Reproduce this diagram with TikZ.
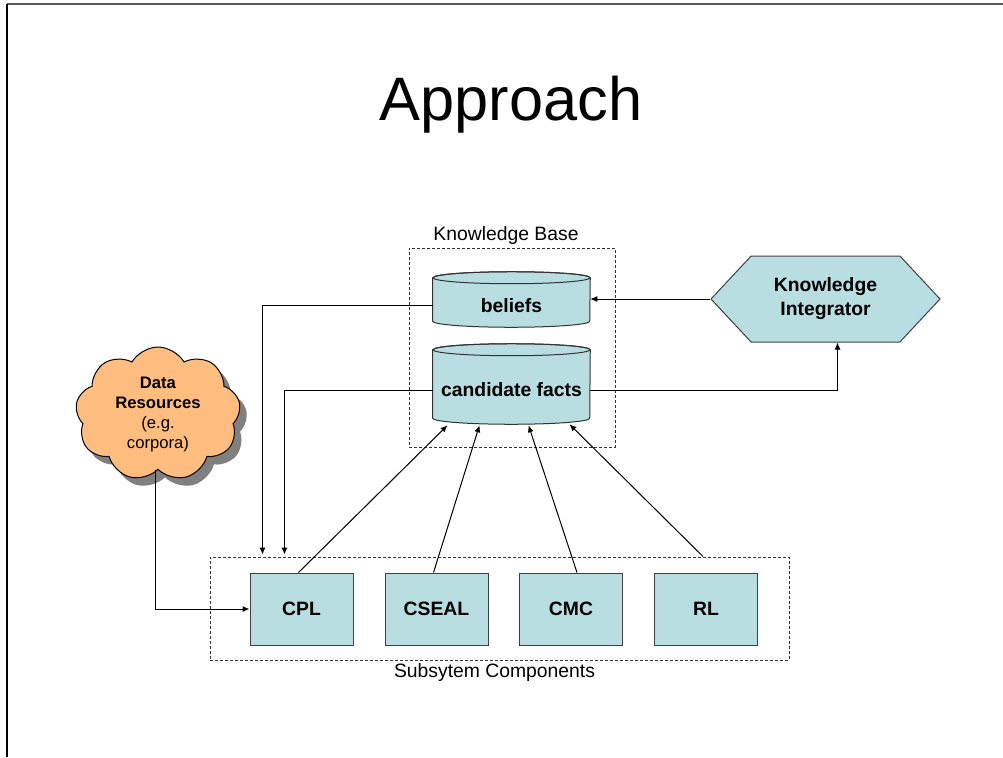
\documentclass[tikz,border=0pt]{standalone}
\usepackage{fontspec}
\setmainfont{Liberation Sans}
\newcommand\unit{0.75pt}
\newcommand\rx{78.5*\unit}
\newcommand\ry{6*\unit}
\usetikzlibrary{positioning,arrows.meta,shapes.symbols,shadows,backgrounds}
\definecolor{teal}{RGB}{185,222,225}
\definecolor{peach}{RGB}{255,190,128}
\tikzset{
  comp/.style={rectangle,draw=black!75,line width=\unit,fill=teal,minimum width=103*\unit,minimum height=72*\unit,font=\bfseries\fontsize{14.5}{18}\selectfont},
  dbnode/.style={rectangle,minimum width=157*\unit,inner sep=0pt,font=\bfseries\fontsize{14.5}{18}\selectfont},
  group/.style={rectangle,draw=black!80,line width=\unit,dash pattern=on 3*\unit off 2*\unit},
  grouplabel/.style={font=\fontsize{14.5}{18}\selectfont,inner sep=1pt},
  link/.style={draw=black,line width=\unit,-{Latex[length=7*\unit,width=6*\unit]}},
  plainlink/.style={draw=black!70,line width=\unit}
}
% cylinder drawn round a named node
\newcommand\dbshape[1]{%
  \filldraw[fill=teal,draw=black!80,line width=\unit]
    ([yshift=6*\unit]#1.north west) -- ([yshift=6*\unit]#1.south west)
    arc[start angle=180,end angle=360,x radius=\rx,y radius=\ry]
    -- ([yshift=6*\unit]#1.north east)
    arc[start angle=0,end angle=180,x radius=\rx,y radius=\ry] -- cycle;
  \draw[draw=black!80,line width=\unit] ([yshift=6*\unit]#1.north) ellipse[x radius=\rx,y radius=\ry];}

\begin{document}
\begin{tikzpicture}[x=\unit,y=-\unit]
  \useasboundingbox (0,0) rectangle (1003,757);
  \draw[black!65,line width=1.2*\unit] (1003,4) -- (7,4);
  \draw[black,line width=1.2*\unit] (7,4) -- (7,757);

  \node[font=\fontsize{46}{50}\selectfont] (title) at (511,105) {Approach};

  % knowledge base
  \node[group,minimum width=206*\unit,minimum height=199*\unit] (kb) at (512,347.5) {};
  \node[grouplabel,above=1*\unit of kb,xshift=-6*\unit] (kblabel) {Knowledge Base};
  \node[dbnode,minimum height=43*\unit] (beliefs) at (511.5,305.5) {beliefs};
  \node[dbnode,minimum height=68*\unit] (facts) at (511.5,390) {candidate facts};
  \begin{pgfonlayer}{background}
    \dbshape{beliefs}
    \dbshape{facts}
  \end{pgfonlayer}

  \node[signal,signal to=east and west,signal pointer angle=94,draw=black!75,line width=\unit,fill=teal,
        minimum width=229*\unit,minimum height=86*\unit,inner sep=0pt,
        font=\bfseries\fontsize{14.5}{18}\selectfont,align=center] (integrator) at (825.5,299) {Knowledge\\Integrator};

  \node[cloud,cloud puffs=9,cloud puff arc=120,aspect=1.2,draw=black,line width=\unit,fill=peach,
        minimum width=165*\unit,minimum height=134*\unit,inner sep=0pt,align=center,
        font=\fontsize{12.5}{15}\selectfont,
        drop shadow={shadow xshift=7*\unit,shadow yshift=-8*\unit,fill=black!50,opacity=1}] (data) at (158,414)
        {\textbf{Data}\\\textbf{Resources}\\(e.g.\\corpora)};

  % subsystem components
  \node[group,minimum width=579*\unit,minimum height=103*\unit] (subsys) at (499.5,608.5) {};
  \node[grouplabel,below=1*\unit of subsys,xshift=-5*\unit] (subsyslabel) {Subsytem Components};
  \node[comp] (cpl) at (301.5,609) {CPL};
  \node[comp] (cseal) at (436.5,609) {CSEAL};
  \node[comp] (cmc) at (571,609) {CMC};
  \node[comp] (rl) at (706,609) {RL};

  \path[link] (beliefs.west) -| ([xshift=53*\unit,yshift=2*\unit]subsys.north west);
  \path[link] (facts.west) -| ([xshift=75*\unit,yshift=2*\unit]subsys.north west);
  \path[link] (integrator.west) -- (integrator.west -| beliefs.east);
  \path[link] (facts.east) -| ([xshift=12*\unit]integrator.south);
  \path[link] ([xshift=-3*\unit]data.south) |- (cpl.west);

  \path[link] ([xshift=-3*\unit]cpl.north) -- ([xshift=-64*\unit,yshift=-1*\unit]facts.south);
  \path[link] ([xshift=-3*\unit]cseal.north) -- ([xshift=-32*\unit,yshift=-1*\unit]facts.south);
  \path[link] ([xshift=6*\unit]cmc.north) -- ([xshift=17*\unit,yshift=-1*\unit]facts.south);
  \path[link] ([xshift=-3*\unit]rl.north |- subsys.north) -- ([xshift=58*\unit]facts.south);
\end{tikzpicture}
\end{document}
